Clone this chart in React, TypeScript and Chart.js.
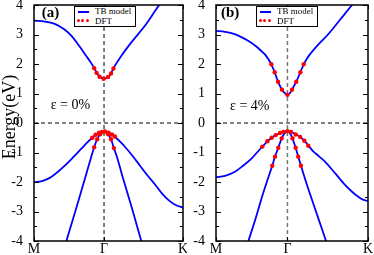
import React, { useEffect, useRef } from 'react';
import { Chart, registerables } from 'chart.js';

Chart.register(...registerables);

const SERIF = "'Liberation Serif', 'Times New Roman', Times, serif";

// k-path in arbitrary path units: M = 0, Γ = 47, K = 100
const K_TICKS = [0, 47, 100];
const K_LABELS = ['M', 'Γ', 'K'];
const GAMMA = 47;
const E_MIN = -4;
const E_MAX = 4;
const E_STEP = 0.5;

// ---------- panel (a): ε = 0% ----------
const A_CB_K = [0, 7.3, 13.9, 20.5, 25.2, 30.5, 35.1, 38.4, 40.4, 42.4, 44.4, 47.0, 49.7, 51.7, 53.6, 56.3, 58.9, 65.6, 74.8, 84.1, 90.1];
const A_CB_E = [3.47, 3.44, 3.36, 3.17, 2.95, 2.6, 2.27, 2.03, 1.86, 1.68, 1.56, 1.5, 1.56, 1.68, 1.88, 2.1, 2.3, 2.75, 3.32, 4.0, 4.35];
const A_VB1_K = [0, 5.3, 10.6, 15.9, 21.2, 26.5, 31.8, 35.8, 39.1, 41.7, 44.4, 47.0, 49.7, 52.3, 55.0, 58.3, 61.6, 66.2, 70.9, 76.2, 81.5, 86.1, 90.7, 95.4, 100];
const A_VB1_E = [-2.01, -1.97, -1.86, -1.66, -1.42, -1.15, -0.87, -0.66, -0.5, -0.39, -0.32, -0.29, -0.32, -0.39, -0.5, -0.66, -0.84, -1.12, -1.43, -1.78, -2.1, -2.4, -2.63, -2.79, -2.87];
const A_VB2_K = [18.5, 21.7, 28.3, 34.9, 38.4, 40.4, 42.4, 44.4, 47.0, 49.7, 51.7, 53.6, 56.0, 59.1, 65.8, 72.0, 74.8];
const A_VB2_E = [-4.53, -4, -2.9, -1.76, -1.15, -0.82, -0.55, -0.38, -0.29, -0.38, -0.55, -0.85, -1.2, -1.76, -2.9, -4, -4.5];
const A_DFT_CB_K = [40.4, 42.0, 44.0, 46.7, 49.7, 51.7, 53.3];
const A_DFT_CB_E = [1.86, 1.7, 1.57, 1.5, 1.56, 1.68, 1.85];
const A_DFT_VB1_K = [39.1, 41.4, 43.7, 45.7, 47.7, 50.0, 52.3, 54.3];
const A_DFT_VB1_E = [-0.5, -0.4, -0.33, -0.3, -0.29, -0.33, -0.39, -0.46];
const A_DFT_VB2_K = [40.4, 42.4, 44.4, 49.7, 51.7, 53.6];
const A_DFT_VB2_E = [-0.82, -0.55, -0.38, -0.38, -0.55, -0.85];

// ---------- panel (b): ε = 4% ----------
const B_CB_K = [0, 5.9, 11.2, 16.4, 21.7, 26.3, 29.6, 32.6, 36.4, 38.6, 40.8, 43.4, 45.3, 47.0, 48.6, 50.0, 52.8, 55.5, 57.7, 59.5, 61.4, 67.1, 73.7, 81.6, 89.5, 96.1];
const B_CB_E = [3.12, 3.09, 3.03, 2.92, 2.77, 2.6, 2.45, 2.3, 1.99, 1.72, 1.4, 1.13, 1.01, 0.95, 1.01, 1.13, 1.4, 1.72, 1.99, 2.15, 2.3, 2.65, 3.0, 3.5, 4.0, 4.4];
const B_VB1_K = [0, 5.9, 12.5, 17.8, 23.5, 27.0, 30.5, 33.8, 36.6, 39.3, 42.1, 44.4, 47.0, 49.3, 52.3, 55.3, 58.1, 60.7, 63.8, 67.8, 71.7, 78.3, 84.9, 89.5, 93.6, 96.7, 100];
const B_VB1_E = [-1.84, -1.79, -1.65, -1.45, -1.2, -1.0, -0.8, -0.62, -0.5, -0.41, -0.34, -0.3, -0.28, -0.3, -0.38, -0.47, -0.6, -0.76, -0.95, -1.13, -1.31, -1.7, -2.1, -2.33, -2.5, -2.6, -2.64];
const B_VB2_K = [18.4, 21.3, 25.7, 30.9, 34.2, 37.0, 38.8, 41.0, 43.2, 45.1, 47.0, 48.7, 50.3, 52.4, 54.1, 55.9, 58.6, 61.8, 67.1, 72.4, 75.0];
const B_VB2_E = [-4.45, -4, -3.3, -2.4, -1.88, -1.45, -1.14, -0.84, -0.52, -0.35, -0.28, -0.35, -0.52, -0.84, -1.14, -1.45, -1.9, -2.4, -3.2, -4, -4.4];
const B_DFT_CB_K = [36.4, 38.6, 40.8, 43.4, 47.0, 50.0, 52.8, 55.5, 57.7];
const B_DFT_CB_E = [1.99, 1.72, 1.4, 1.13, 0.96, 1.13, 1.4, 1.72, 1.99];
const B_DFT_VB1_K = [30.5, 33.8, 36.6, 39.3, 42.1, 44.4, 47.0, 49.3, 52.4, 55.3, 58.1, 60.7];
const B_DFT_VB1_E = [-0.8, -0.62, -0.5, -0.41, -0.34, -0.3, -0.28, -0.3, -0.39, -0.47, -0.6, -0.77];
const B_DFT_VB2_K = [37.0, 38.8, 41.0, 43.2, 50.3, 52.4, 54.1, 55.9];
const B_DFT_VB2_E = [-1.45, -1.14, -0.84, -0.52, -0.52, -0.84, -1.14, -1.45];

const LEGEND_LINE = 'TB model';
const LEGEND_DOTS = 'DFT';

type Series = { k: number[]; e: number[] };

const toPts = (s: Series) => s.k.map((x, i) => ({ x, y: s.e[i] }));

const framePlugin = {
  id: 'frame',
  afterDatasetsDraw(chart: any) {
    const { ctx, chartArea: a } = chart;
    const ys = chart.scales.y;
    const xs = chart.scales.x;
    ctx.save();
    ctx.strokeStyle = '#000';
    ctx.lineWidth = 1;
    ctx.beginPath();
    ys.ticks.forEach((t: any) => {
      const py = Math.round(ys.getPixelForValue(t.value)) + 0.5;
      const len = Number.isInteger(t.value) ? 5 : 3;
      ctx.moveTo(a.left, py);
      ctx.lineTo(a.left + len, py);
      ctx.moveTo(a.right, py);
      ctx.lineTo(a.right - len, py);
    });
    xs.ticks.forEach((t: any) => {
      const px = Math.round(xs.getPixelForValue(t.value)) + 0.5;
      ctx.moveTo(px, a.bottom);
      ctx.lineTo(px, a.bottom - 4);
      ctx.moveTo(px, a.top);
      ctx.lineTo(px, a.top + 4);
    });
    ctx.stroke();
    ctx.lineWidth = 1.5;
    ctx.strokeRect(a.left, a.top, a.right - a.left, a.bottom - a.top);
    ctx.restore();
  },
};

type PanelProps = {
  left: number;
  width: number;
  axisWidth: number;
  padRight: number;
  bands: Series[];
  dft: Series[];
  gammaColor: string;
  gammaWidth: number;
};

function Panel(p: PanelProps) {
  const ref = useRef<HTMLCanvasElement>(null);
  useEffect(() => {
    const canvas = ref.current;
    if (!canvas) return;
    const kMin = K_TICKS[0];
    const kMax = K_TICKS[K_TICKS.length - 1];
    const datasets: any[] = [];
    datasets.push({
      data: [{ x: kMin, y: 0 }, { x: kMax, y: 0 }],
      borderColor: '#000',
      borderWidth: 1,
      borderDash: [4, 3],
      pointRadius: 0,
      order: 5,
    });
    datasets.push({
      data: [{ x: GAMMA, y: E_MIN }, { x: GAMMA, y: E_MAX }],
      borderColor: p.gammaColor,
      borderWidth: p.gammaWidth,
      borderDash: [4, 3],
      pointRadius: 0,
      order: 4,
    });
    p.bands.forEach((b) => {
      datasets.push({
        data: toPts(b),
        borderColor: '#0000ff',
        borderWidth: 1.8,
        pointRadius: 0,
        cubicInterpolationMode: 'monotone',
        order: 3,
      });
    });
    p.dft.forEach((d) => {
      datasets.push({
        data: toPts(d),
        showLine: false,
        pointRadius: 2.2,
        pointBackgroundColor: '#ff0000',
        pointBorderWidth: 0,
        borderColor: '#ff0000',
        order: 1,
      });
    });
    const tickFont = { family: SERIF, size: 14, lineHeight: 1 };
    const chart = new Chart(canvas, {
      type: 'line',
      data: { datasets },
      plugins: [framePlugin],
      options: {
        animation: false,
        responsive: false,
        devicePixelRatio: 1,
        layout: { padding: { left: 0, right: p.padRight, top: 5, bottom: 0 } },
        plugins: { legend: { display: false }, tooltip: { enabled: false } },
        scales: {
          x: {
            type: 'linear',
            min: kMin,
            max: kMax,
            grid: { display: false },
            border: { display: false },
            afterBuildTicks: (s: any) => {
              s.ticks = K_TICKS.map((v) => ({ value: v }));
            },
            afterFit: (s: any) => {
              s.height = 14;
              s.paddingLeft = 0;
              s.paddingRight = 0;
            },
            ticks: {
              autoSkip: false,
              maxRotation: 0,
              minRotation: 0,
              padding: -7,
              color: '#000',
              font: tickFont,
              callback: (_v: any, i: number) => K_LABELS[i],
            },
          },
          y: {
            type: 'linear',
            min: E_MIN,
            max: E_MAX,
            grid: { display: false },
            border: { display: false },
            afterFit: (s: any) => {
              s.width = p.axisWidth;
              s.paddingTop = 0;
              s.paddingBottom = 0;
            },
            ticks: {
              stepSize: E_STEP,
              autoSkip: false,
              padding: 3,
              color: '#000',
              font: tickFont,
              callback: (v: any) => (Number.isInteger(v) ? String(v) : ''),
            },
          },
        },
      } as any,
    });
    return () => chart.destroy();
  }, []);
  return (
    <canvas
      ref={ref}
      width={p.width}
      height={255}
      style={{ position: 'absolute', left: p.left, top: 0, width: p.width, height: 255, display: 'block' }}
    />
  );
}

function Legend({ left, top }: { left: number; top: number }) {
  const dot = (x: number) => (
    <div
      key={x}
      style={{
        position: 'absolute',
        left: x - 1.6,
        top: 13.3 - 1.6,
        width: 3.2,
        height: 3.2,
        borderRadius: '50%',
        background: '#ff0000',
      }}
    />
  );
  return (
    <div
      style={{
        position: 'absolute',
        left,
        top,
        width: 62,
        height: 21,
        boxSizing: 'border-box',
        border: '1px solid #000',
        background: '#fff',
        fontFamily: SERIF,
        fontSize: 9,
        lineHeight: '9px',
        whiteSpace: 'nowrap',
      }}
    >
      <div style={{ position: 'absolute', left: 2.7, top: 4.2, width: 11.6, height: 1.6, background: '#0000ff' }} />
      <div style={{ position: 'absolute', left: 20, top: 0.3 }}>{LEGEND_LINE}</div>
      {[3.3, 7.7, 12.3].map(dot)}
      <div style={{ position: 'absolute', left: 20, top: 10.2 }}>{LEGEND_DOTS}</div>
    </div>
  );
}

function Text({ left, top, size, bold, children }: any) {
  return (
    <div
      style={{
        position: 'absolute',
        left,
        top,
        fontFamily: SERIF,
        fontSize: size,
        lineHeight: `${size}px`,
        fontWeight: bold ? 'bold' : 'normal',
        whiteSpace: 'nowrap',
        color: '#000',
      }}
    >
      {children}
    </div>
  );
}

export default function App() {
  return (
    <div
      style={{
        position: 'absolute',
        left: 0,
        top: 0,
        width: 374,
        height: 255,
        overflow: 'hidden',
        background: '#fff',
      }}
    >
      <Panel
        left={0}
        width={187}
        axisWidth={34}
        padRight={2}
        bands={[
          { k: A_CB_K, e: A_CB_E },
          { k: A_VB1_K, e: A_VB1_E },
          { k: A_VB2_K, e: A_VB2_E },
        ]}
        dft={[
          { k: A_DFT_CB_K, e: A_DFT_CB_E },
          { k: A_DFT_VB1_K, e: A_DFT_VB1_E },
          { k: A_DFT_VB2_K, e: A_DFT_VB2_E },
        ]}
        gammaColor="#000"
        gammaWidth={1}
      />
      <Panel
        left={187}
        width={187}
        axisWidth={29}
        padRight={6}
        bands={[
          { k: B_CB_K, e: B_CB_E },
          { k: B_VB1_K, e: B_VB1_E },
          { k: B_VB2_K, e: B_VB2_E },
        ]}
        dft={[
          { k: B_DFT_CB_K, e: B_DFT_CB_E },
          { k: B_DFT_VB1_K, e: B_DFT_VB1_E },
          { k: B_DFT_VB2_K, e: B_DFT_VB2_E },
        ]}
        gammaColor="#777"
        gammaWidth={1.5}
      />
      <div
        style={{
          position: 'absolute',
          left: 9,
          top: 116.5,
          transform: 'translate(-50%, -50%) rotate(-90deg)',
          fontFamily: SERIF,
          fontSize: 18,
          lineHeight: '18px',
          whiteSpace: 'nowrap',
          color: '#000',
        }}
      >
        Energy(eV)
      </div>
      <Legend left={74} top={6} />
      <Legend left={256} top={6} />
      <Text left={41.7} top={4.7} size={15} bold>(a)</Text>
      <Text left={221} top={4.7} size={15} bold>(b)</Text>
      <Text left={50.7} top={98.3} size={14}>ε = 0%</Text>
      <Text left={230} top={99.3} size={14}>ε = 4%</Text>
    </div>
  );
}
